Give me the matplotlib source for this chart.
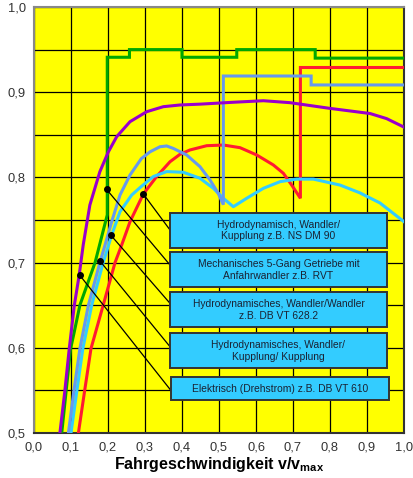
import matplotlib.pyplot as plt
import numpy as np
from matplotlib.patches import Rectangle

plt.rcParams['font.family'] = ['Liberation Sans', 'DejaVu Sans']
plt.rcParams['mathtext.fontset'] = 'custom'
plt.rcParams['mathtext.rm'] = 'Liberation Sans'
plt.rcParams['mathtext.bf'] = 'Liberation Sans:bold'

# Data: Wirkungsgrad ueber v/vmax
el_x = [0.070, 0.083, 0.095, 0.109, 0.122, 0.133, 0.151, 0.178, 0.201, 0.2235, 0.2595, 0.3045, 0.3495,
        0.3946, 0.45, 0.53, 0.62, 0.692, 0.80, 0.908, 0.953, 1.0]
el_y = [0.50, 0.548, 0.598, 0.65, 0.685, 0.7207, 0.7676, 0.8067, 0.830, 0.8478, 0.8654, 0.8771, 0.883,
        0.885, 0.886, 0.888, 0.890, 0.8877, 0.881, 0.875, 0.869, 0.859]

mech_x = [0.075, 0.087, 0.099, 0.108, 0.124, 0.165, 0.198, 0.198, 0.258, 0.258, 0.40, 0.40, 0.548, 0.548, 0.76, 0.76, 1.0]
mech_y = [0.50, 0.55, 0.599, 0.617, 0.65, 0.70, 0.756, 0.941, 0.941, 0.950, 0.950, 0.941, 0.941, 0.950, 0.950, 0.940, 0.940]

wkk_x = [0.093, 0.108, 0.124, 0.147, 0.178, 0.192, 0.21, 0.2324, 0.2595, 0.29, 0.3135, 0.3405, 0.3586,
         0.3766, 0.4126, 0.4486, 0.4757, 0.498, 0.5117, 0.5117, 0.749, 0.749, 1.0]
wkk_y = [0.50, 0.55, 0.599, 0.65, 0.70, 0.7207, 0.748, 0.7793, 0.8028, 0.822, 0.830, 0.836, 0.8369,
         0.834, 0.8263, 0.8126, 0.797, 0.7813, 0.768, 0.919, 0.919, 0.9085, 0.9085]

ww_x = [0.100, 0.116, 0.132, 0.156, 0.187, 0.21, 0.2324, 0.264, 0.2865, 0.3225, 0.3586, 0.4036, 0.4486,
        0.4847, 0.5117, 0.5387, 0.5748, 0.62, 0.665, 0.71, 0.755, 0.827, 0.88, 0.935, 1.0]
ww_y = [0.50, 0.55, 0.599, 0.65, 0.70, 0.7324, 0.7597, 0.7793, 0.788, 0.801, 0.8068, 0.806, 0.799,
        0.7872, 0.7755, 0.7656, 0.7755, 0.7872, 0.795, 0.798, 0.798, 0.791, 0.782, 0.770, 0.748]

wk_x = [0.120, 0.137, 0.154, 0.187, 0.219, 0.237, 0.2595, 0.2955, 0.3315, 0.3676, 0.3946, 0.4216, 0.4667,
        0.5117, 0.5568, 0.602, 0.6468, 0.674, 0.6964, 0.72, 0.72, 1.0]
wk_y = [0.50, 0.55, 0.599, 0.65, 0.70, 0.7207, 0.748, 0.7805, 0.801, 0.8184, 0.8271, 0.8322, 0.8372,
        0.838, 0.8349, 0.8263, 0.8146, 0.8048, 0.7911, 0.7755, 0.929, 0.929]

labels = ["Hydrodynamisch, Wandler/\nKupplung z.B. NS DM 90",
          "Mechanisches 5-Gang Getriebe mit\nAnfahrwandler z.B. RVT",
          "Hydrodynamisches, Wandler/Wandler\nz.B. DB VT 628.2",
          "Hydrodynamisches, Wandler/\nKupplung/ Kupplung",
          "Elektrisch (Drehstrom) z.B. DB VT 610"]
# Punkte auf den Kurven, an denen die Hinweislinien ansetzen
dot_x = [0.2955, 0.196, 0.208, 0.179, 0.124]
dot_y = [0.7805, 0.786, 0.732, 0.7015, 0.685]

xticks = np.arange(0, 1.01, 0.1)
yticks = np.arange(0.5, 1.01, 0.1)

# Plot
fig = plt.figure(figsize=(4.14, 4.78), dpi=100)
ax = fig.add_axes([34/414, 45/478, 370/414, 426/478])
ax.set_facecolor('#FFFF00')

lw = 2.2
ax.plot(wk_x, wk_y, color='#FF1A33', lw=lw, zorder=3, solid_joinstyle='miter')
ax.plot(ww_x, ww_y, color='#33CCFF', lw=lw, zorder=3)
ax.plot(wkk_x, wkk_y, color='#6699EE', lw=lw, zorder=3, solid_joinstyle='miter')
ax.plot(mech_x, mech_y, color='#00A800', lw=lw, zorder=3, solid_joinstyle='miter')
ax.plot(el_x, el_y, color='#9900CC', lw=lw, zorder=3)

# Beschriftungskaesten
box_l, box_r = 0.3676, 0.954
box_tops = [0.7586, 0.7121, 0.6651, 0.617, 0.5654]
box_bots = [0.7168, 0.671, 0.6241, 0.5759, 0.5387]
end_y = [0.7383, 0.6972, 0.6522, 0.6013, 0.5513]
for i, lab in enumerate(labels):
    l = box_l + (0.003 if i == 4 else 0)
    r = box_r + (0.005 if i == 4 else 0)
    ax.add_patch(Rectangle((l, box_bots[i]), r - l, box_tops[i] - box_bots[i],
                           facecolor='#33CCFF', edgecolor='#333333', lw=1.4, zorder=6))
    ax.text((l + r) / 2, (box_tops[i] + box_bots[i]) / 2, lab, ha='center', va='center',
            fontsize=7.4, color='#1a2233', linespacing=1.2, zorder=7)
    ax.plot([dot_x[i], box_l], [dot_y[i], end_y[i]], color='black', lw=0.9, zorder=5)
    ax.plot(dot_x[i], dot_y[i], 'o', color='black', ms=4, zorder=5)

ax.set_xlim(0, 1.0)
ax.set_ylim(0.5, 1.0)
ax.set_xticks(xticks)
ax.set_xticklabels([f'{v:.1f}'.replace('.', ',') for v in xticks])
ax.set_yticks(yticks)
ax.set_yticklabels([f'{v:.1f}'.replace('.', ',') for v in yticks])
ax.set_yticks(np.arange(0.55, 1.0, 0.1), minor=True)
ax.grid(True, which='both', color='black', lw=0.9, zorder=1)
ax.set_axisbelow(True)
ax.tick_params(which='both', length=0, labelsize=9.3, labelcolor='#333333')
ax.tick_params(axis='x', pad=6)
ax.tick_params(axis='y', pad=6)
for s in ['left', 'top']:
    ax.spines[s].set_color('#888888')
    ax.spines[s].set_linewidth(1.5)
for s in ['right', 'bottom']:
    ax.spines[s].set_color('#333333')
    ax.spines[s].set_linewidth(1.5)

ax.set_xlabel(r'Fahrgeschwindigkeit v/v$_\mathbf{max}$', fontsize=11.5, fontweight='bold', labelpad=1)

fig.savefig('out.png', dpi=100)
